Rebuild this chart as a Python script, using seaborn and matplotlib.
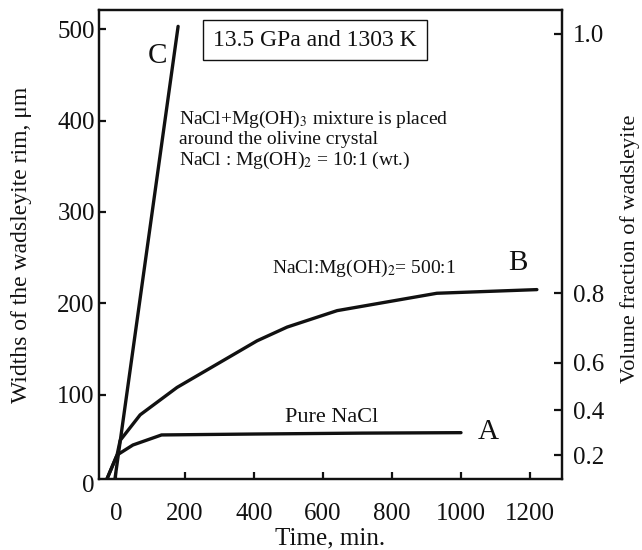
import numpy as np
import pandas as pd
import matplotlib
matplotlib.use("Agg")
import matplotlib.pyplot as plt
import seaborn as sns

# ---- data ----
time_A = [-35, 3, 49, 132, 400, 713, 1000]
width_A = [0, 34, 45, 56, 57, 58, 58.5]

time_B = [-35, 3, 12, 70, 177, 409, 496, 641, 930, 1220]
width_B = [0, 34, 50, 78, 108, 159, 174, 192, 211, 215]

time_C = [-6, 180]
width_C = [0, 503]

x_ticks = [0, 200, 400, 600, 800, 1000, 1200]
y_ticks = [100, 200, 300, 400, 500]
frac_labels = ["0.2", "0.4", "0.6", "0.8", "1.0"]
frac_width_equiv = [34, 83, 135, 211, 495]   # rim width matching each volume fraction

sns.set_theme(style="ticks")
plt.rcParams["font.family"] = ["Liberation Serif", "DejaVu Serif"]
plt.rcParams["mathtext.fontset"] = "stix"

W, H = 642, 550
fig = plt.figure(figsize=(W / 100, H / 100), dpi=100)
left, right, top, bottom = 99, 562, 10, 479
ax = fig.add_axes([left / W, 1 - bottom / H, (right - left) / W, (bottom - top) / H])

df = pd.concat([
    pd.DataFrame({"t": time_A, "w": width_A, "s": "A"}),
    pd.DataFrame({"t": time_B, "w": width_B, "s": "B"}),
    pd.DataFrame({"t": time_C, "w": width_C, "s": "C"}),
])
for name, g in df.groupby("s"):
    sns.lineplot(data=g, x="t", y="w", ax=ax, color="#111111", lw=2.4,
                 estimator=None, sort=False, legend=False)

ax.set_xlim(-49.3, 1292.8)
ax.set_ylim(7.8, 520.9)
ax.set_xticks(x_ticks)
ax.set_yticks(y_ticks)
ax.tick_params(axis="both", direction="in", length=5, width=1.6, labelsize=18,
               color="#111111", labelcolor="#111111")
ax.tick_params(axis="x", pad=17)
ax.tick_params(axis="y", pad=3)
for sp in ax.spines.values():
    sp.set_linewidth(1.6)
    sp.set_color("#111111")
ax.annotate("0", xy=(0, 0), xycoords=("axes fraction", "data"), xytext=(-3, 0),
            textcoords="offset points", ha="right", va="center", fontsize=18,
            annotation_clip=False, color="#111111")

ax.set_xlabel("Time, min.", fontsize=18, labelpad=2, color="#111111")
ax.set_ylabel("Widths of the wadsleyite rim, μm", fontsize=17, color="#111111")
ax.yaxis.set_label_coords(-0.145, 0.5)

ax2 = ax.twinx()
ax2.set_ylim(ax.get_ylim())
ax2.set_yticks(frac_width_equiv)
ax2.set_yticklabels(frac_labels)
ax2.tick_params(axis="y", direction="in", length=6, width=1.6, labelsize=18, pad=8,
                color="#111111", labelcolor="#111111")
for sp in ax2.spines.values():
    sp.set_linewidth(1.6)
    sp.set_color("#111111")
ax2.set_ylabel("Volume fraction of wadsleyite", fontsize=16, color="#111111",
               rotation=90, va="center", ha="center")
ax2.yaxis.set_label_coords((630 - left) / (right - left), 0.49)

# annotations
ax.text(119, 471, "C", fontsize=21, ha="center", va="center", color="#111111")
ax.text(1166, 244, "B", fontsize=21, ha="center", va="center", color="#111111")
ax.text(1078, 59, "A", fontsize=21, ha="center", va="center", color="#111111")
ax.text(282, 488, "13.5 GPa and 1303 K", fontsize=17, ha="left", va="center",
        color="#111111",
        bbox=dict(boxstyle="square,pad=0.42", fc="white", ec="#111111", lw=1.0))
ax.text(182, 413,
        "NaCl+Mg(OH)$_3$ mixture is placed\naround the olivine crystal\n"
        "NaCl : Mg(OH)$_2$ = 10:1 (wt.)",
        fontsize=14, ha="left", va="top", linespacing=1.1, color="#111111")
ax.text(453, 238, "NaCl:Mg(OH)$_2$= 500:1", fontsize=14, ha="left", va="center",
        color="#111111")
ax.text(491, 75, "Pure NaCl", fontsize=16, ha="left", va="center", color="#111111")

fig.savefig("out.png", dpi=100)
